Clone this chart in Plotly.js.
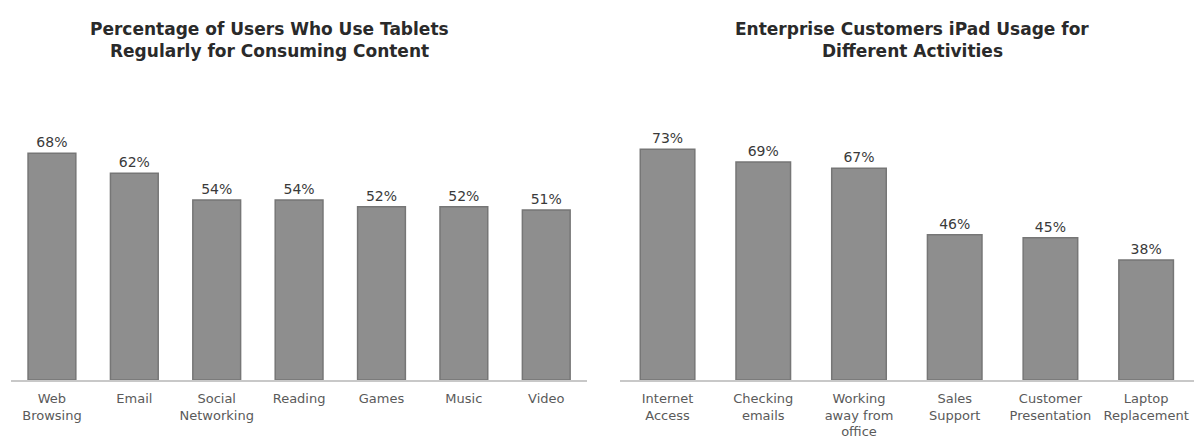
<!DOCTYPE html>
<html>
<head>
<meta charset="utf-8">
<script src="https://cdn.plot.ly/plotly-3.0.1.min.js"></script>
<style>html,body{margin:0;padding:0;background:#fff;}#chart{width:1194px;height:444px;}</style>
</head>
<body>
<div id="chart"></div>
<script>
const leftTitleLines = ["Percentage of Users Who Use Tablets", "Regularly for Consuming Content"];
const leftCategories = ["Web<br>Browsing", "Email", "Social<br>Networking", "Reading", "Games", "Music", "Video"];
const leftValues = [68, 62, 54, 54, 52, 52, 51];

const rightTitleLines = ["Enterprise Customers iPad Usage for", "Different Activities"];
const rightCategories = ["Internet<br>Access", "Checking<br>emails", "Working<br>away from<br>office", "Sales<br>Support", "Customer<br>Presentation", "Laptop<br>Replacement"];
const rightValues = [73, 69, 67, 46, 45, 38];

const barColor = "#8e8e8e";
const barLine = "#767676";
const textFont = {family: "DejaVu Sans, sans-serif", size: 14, color: "#3a3a3a"};
const titleFont = {family: "DejaVu Sans, sans-serif", size: 17, color: "#2a2a2a"};

const traces = [
  {type: "bar", x: leftCategories, y: leftValues, xaxis: "x", yaxis: "y",
   width: 0.58,
   marker: {color: barColor, line: {color: barLine, width: 1.5}},
   text: leftValues.map(v => v + "%"), textposition: "outside", cliponaxis: false,
   textfont: textFont, hoverinfo: "x+y"},
  {type: "bar", x: rightCategories, y: rightValues, xaxis: "x2", yaxis: "y2",
   width: 0.57,
   marker: {color: barColor, line: {color: barLine, width: 1.5}},
   text: rightValues.map(v => v + "%"), textposition: "outside", cliponaxis: false,
   textfont: textFont, hoverinfo: "x+y"}
];

const axisX = {
  showline: true, linecolor: "#c8c8c8", linewidth: 2, ticks: "", showgrid: false,
  zeroline: false, ticklabelstandoff: 5,
  tickfont: {family: "DejaVu Sans, sans-serif", size: 13, color: "#5a5a5a"},
  fixedrange: true
};
const axisY = {visible: false, showgrid: false, zeroline: false, fixedrange: true};

function titleAnn(lines, x) {
  const shifts = [71, 49];
  return lines.map((t, i) => ({
    text: "<b>" + t + "</b>", xref: "paper", yref: "paper", x: x, y: 1.0, yshift: shifts[i],
    xanchor: "center", yanchor: "middle", showarrow: false, font: titleFont
  }));
}

const layout = {
  width: 1194, height: 444,
  margin: {l: 0, r: 0, t: 100, b: 64},
  paper_bgcolor: "#fff", plot_bgcolor: "#fff",
  showlegend: false,
  xaxis: Object.assign({}, axisX, {domain: [0.009, 0.492], anchor: "y"}),
  yaxis: Object.assign({}, axisY, {range: [0, 84], anchor: "x"}),
  xaxis2: Object.assign({}, axisX, {domain: [0.519, 1.0], anchor: "y2"}),
  yaxis2: Object.assign({}, axisY, {range: [0, 88.6], anchor: "x2"}),
  annotations: titleAnn(leftTitleLines, 0.226).concat(titleAnn(rightTitleLines, 0.764))
};

Plotly.newPlot("chart", traces, layout, {displayModeBar: false, staticPlot: true});
</script>
</body>
</html>
